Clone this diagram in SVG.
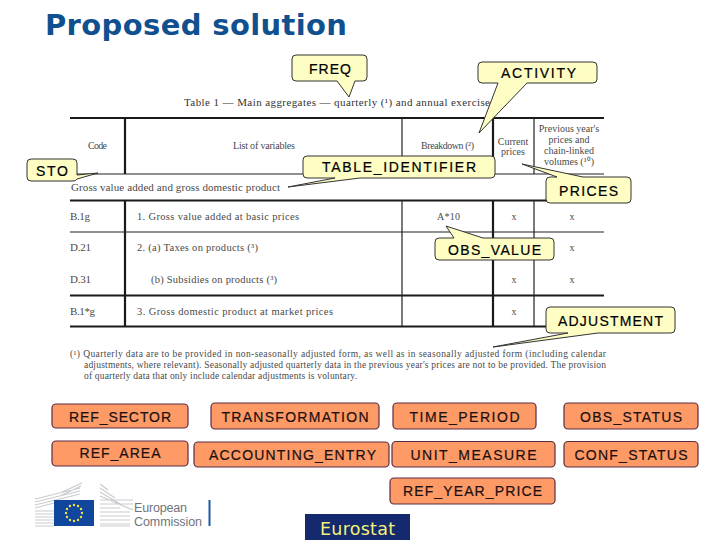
<svg xmlns="http://www.w3.org/2000/svg" width="720" height="540" viewBox="0 0 720 540">
<style>
text{font-family:"Liberation Sans",Arial,sans-serif}
.title{font-family:"DejaVu Sans",Verdana,sans-serif;font-weight:700;font-size:29px;fill:#11508f}
.t{font-family:"Liberation Serif","Times New Roman",serif;font-size:10px;fill:#4a4a4a}
.tc{text-anchor:middle}
.thick{stroke:#1a1a1a;stroke-width:2.2;fill:none}
.thin{stroke:#222;stroke-width:1.2;fill:none}
.call{fill:#fdfdc4;stroke:#333;stroke-width:1}
.calltxt{font-size:14px;fill:#000;stroke:#000;stroke-width:.2;text-anchor:middle}
.box{fill:#fd9a66;stroke:#5b2a45;stroke-width:1.2}
.boxtxt{font-size:14px;fill:#1c1010;stroke:#1c1010;stroke-width:.2;text-anchor:middle}
.star{fill:#f2e24a}
</style>
<rect width="720" height="540" fill="#fff"/>
<text class="title" x="45" y="35" textLength="302">Proposed solution</text>

<g id="table">
<text class="t" x="184" y="106" textLength="306" style="font-size:11px;fill:#333">Table 1 — Main aggregates — quarterly (¹) and annual exercise</text>
<path class="thick" d="M70 118H604M70 200.5H604M70 295.5H604M70 326.5H604M125 118V174M125 200V326.5M493 118V174M493 200V326.5"/>
<path class="thin" d="M70 174H604M70 232H604M402 118V174M534 118V174M402 200V326.5M534 200V326.5"/>
<text class="t" x="88" y="149" textLength="19">Code</text>
<text class="t" x="233" y="149" textLength="62">List of variables</text>
<text class="t" x="421" y="149" textLength="53">Breakdown (²)</text>
<text class="t tc" x="513" y="145">Current</text>
<text class="t tc" x="513" y="155">prices</text>
<text class="t tc" x="569" y="132">Previous year's</text>
<text class="t tc" x="569" y="143">prices and</text>
<text class="t tc" x="569" y="154">chain-linked</text>
<text class="t tc" x="569" y="165">volumes (¹⁰)</text>
<text class="t" x="71" y="191" textLength="209" style="font-size:11px">Gross value added and gross domestic product</text>
<text class="t" x="70" y="220" textLength="20" style="font-size:11px">B.1g</text>
<text class="t" x="137" y="220" textLength="162" style="font-size:10.5px">1. Gross value added at basic prices</text>
<text class="t" x="70" y="251" textLength="21" style="font-size:11px">D.21</text>
<text class="t" x="137" y="251" textLength="121" style="font-size:10.5px">2. (a) Taxes on products (³)</text>
<text class="t" x="70" y="283" textLength="21" style="font-size:11px">D.31</text>
<text class="t" x="151" y="283" textLength="126" style="font-size:10.5px">(b) Subsidies on products (³)</text>
<text class="t" x="70" y="315" textLength="25" style="font-size:11px">B.1*g</text>
<text class="t" x="137" y="315" textLength="196" style="font-size:10.5px">3. Gross domestic product at market prices</text>
<text class="t" x="437" y="220" textLength="23">A*10</text>
<text class="t tc" x="514" y="220">x</text>
<text class="t tc" x="572" y="220">x</text>
<text class="t tc" x="572" y="251">x</text>
<text class="t tc" x="514" y="283">x</text>
<text class="t tc" x="572" y="283">x</text>
<text class="t tc" x="514" y="315">x</text>
<text class="t" x="70" y="357" textLength="536" style="font-size:9.5px">(¹)  Quarterly data are to be provided in non-seasonally adjusted form, as well as in seasonally adjusted form (including calendar</text>
<text class="t" x="84" y="368" textLength="522" style="font-size:9.5px">adjustments, where relevant). Seasonally adjusted quarterly data in the previous year's prices are not to be provided. The provision</text>
<text class="t" x="84" y="379" textLength="273" style="font-size:9.5px">of quarterly data that only include calendar adjustments is voluntary.</text>
</g>

<g id="connectors"></g>

<g id="freq"><path class="call" d="M296 55H363Q367 55 367 59V77Q367 81 363 81H355L349 97L337 81H296Q292 81 292 77V59Q292 55 296 55Z"/><text class="calltxt" x="330" y="73.500" textLength="42">FREQ</text></g>
<g id="activity"><path class="call" d="M482 62H593Q597 62 597 66V79Q597 83 593 83H527L479 133L498 83H482Q478 83 478 79V66Q478 62 482 62Z"/><text class="calltxt" x="538.500" y="77.500" textLength="75">ACTIVITY</text></g>
<g id="sto"><path class="call" d="M31 159H73Q77 159 77 163V175L98 173L77 179Q76 181 73 181H31Q27 181 27 177V163Q27 159 31 159Z"/><text class="calltxt" x="52" y="176" textLength="32">STO</text></g>
<g id="table_identifier"><path class="call" d="M307 156H491Q495 156 495 160V174Q495 178 491 178H360L288 187L335 178H307Q303 178 303 174V160Q303 156 307 156Z"/><text class="calltxt" x="399" y="172" textLength="154">TABLE_IDENTIFIER</text></g>
<g id="prices"><path class="call" d="M550 177H557L522 164L583 177H627Q631 177 631 181V199Q631 203 627 203H550Q546 203 546 199V181Q546 177 550 177Z"/><text class="calltxt" x="588.500" y="195.500" textLength="59">PRICES</text></g>
<g id="obs_value"><path class="call" d="M439 238H454L446 226L483 238H550Q554 238 554 242V256Q554 260 550 260H439Q435 260 435 256V242Q435 238 439 238Z"/><text class="calltxt" x="494.500" y="255" textLength="93">OBS_VALUE</text></g>
<g id="adjustment"><path class="call" d="M550 307H671Q675 307 675 311V329Q675 333 671 333H598L493 347L568 333H550Q546 333 546 329V311Q546 307 550 307Z"/><text class="calltxt" x="610.500" y="325.500" textLength="105">ADJUSTMENT</text></g>

<g id="ref_sector"><rect class="box" x="52" y="404" width="136" height="24" rx="4"/><text class="boxtxt" x="120" y="422" textLength="102">REF_SECTOR</text></g>
<g id="transformation"><rect class="box" x="211" y="403" width="168" height="26" rx="4"/><text class="boxtxt" x="295" y="422" textLength="147">TRANSFORMATION</text></g>
<g id="time_period"><rect class="box" x="393" y="403" width="143" height="26" rx="4"/><text class="boxtxt" x="464.500" y="422" textLength="110">TIME_PERIOD</text></g>
<g id="obs_status"><rect class="box" x="564" y="403" width="134" height="26" rx="4"/><text class="boxtxt" x="631" y="422" textLength="102">OBS_STATUS</text></g>
<g id="ref_area"><rect class="box" x="52" y="441" width="136" height="25" rx="4"/><text class="boxtxt" x="120" y="458" textLength="81">REF_AREA</text></g>
<g id="accounting_entry"><rect class="box" x="194" y="442" width="195" height="25" rx="4"/><text class="boxtxt" x="292.500" y="460" textLength="167">ACCOUNTING_ENTRY</text></g>
<g id="unit_measure"><rect class="box" x="392" y="441.500" width="163" height="25.500" rx="4"/><text class="boxtxt" x="473.500" y="460" textLength="126">UNIT_MEASURE</text></g>
<g id="conf_status"><rect class="box" x="564" y="441.500" width="134" height="25.500" rx="4"/><text class="boxtxt" x="631" y="460" textLength="113">CONF_STATUS</text></g>
<g id="ref_year_price"><rect class="box" x="390" y="478" width="165" height="26" rx="4"/><text class="boxtxt" x="472.500" y="496" textLength="139">REF_YEAR_PRICE</text></g>

<g id="logo">
<path stroke="#c9ccd0" stroke-width="1.2" fill="none" d="M35 499L80 488M35 502L80 491M35 505L80 494M35 508L54 503M35 511H54M35 514H54M35 517H54M35 520H54M35 523H54M35 526H54M60 493L82 483M60 496L81 486"/>
<path stroke="#c9ccd0" stroke-width="1.2" fill="none" d="M100 484L108 490M100 488L115 498M100 492L122 505M100 496L133 510M100 500H133M100 504H133M100 508H120M100 512H130M100 516H130M100 520H130M100 524H130M100 526H130"/>
<rect x="54" y="500" width="40" height="26" fill="#10479c"/>
<g class="star"><circle cx="74" cy="505" r="1.200"/><circle cx="78" cy="506" r="1.200"/><circle cx="81" cy="509" r="1.200"/><circle cx="82" cy="513" r="1.200"/><circle cx="81" cy="517" r="1.200"/><circle cx="78" cy="520" r="1.200"/><circle cx="74" cy="521" r="1.200"/><circle cx="70" cy="520" r="1.200"/><circle cx="67" cy="517" r="1.200"/><circle cx="66" cy="513" r="1.200"/><circle cx="67" cy="509" r="1.200"/><circle cx="70" cy="506" r="1.200"/></g>
<text x="134" y="512" font-size="12.500" fill="#6f7478" textLength="53">European</text>
<text x="134" y="526" font-size="12.500" fill="#6f7478" textLength="68">Commission</text>
<rect x="208.500" y="500" width="2" height="26" fill="#1a5ba6"/>
</g>
<g id="eurostat"><rect x="305" y="514" width="105" height="26" fill="#14296e"/><text x="320" y="534.500" font-size="17.500" fill="#f2f27a" textLength="75" style="font-family:'DejaVu Sans',Verdana,sans-serif">Eurostat</text></g>
</svg>
